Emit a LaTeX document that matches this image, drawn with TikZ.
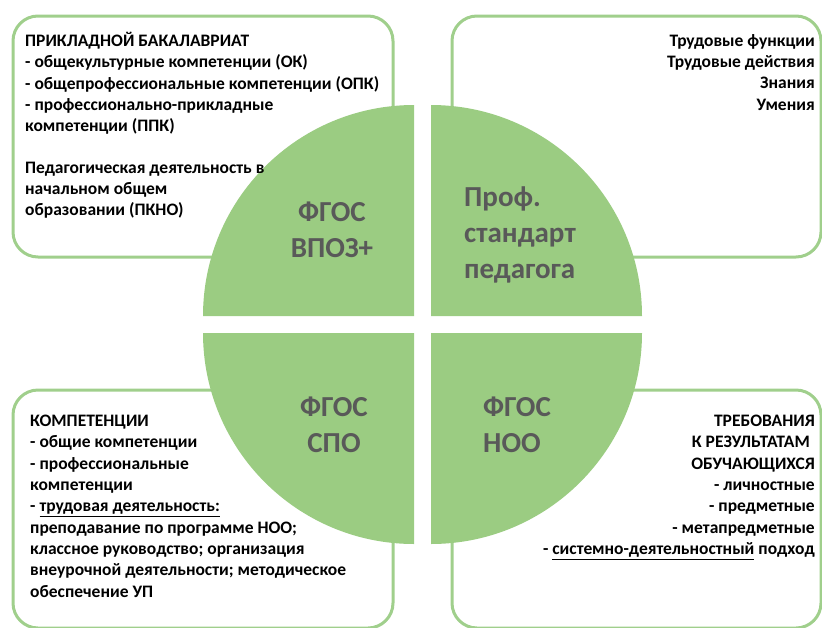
\documentclass[tikz,border=0pt]{standalone}
\usepackage{fontspec}
\setmainfont{Carlito}
\definecolor{qgreen}{RGB}{155,204,130}
\definecolor{bgreen}{RGB}{160,207,140}
\definecolor{lbl}{RGB}{89,89,89}
\begin{document}
\begin{tikzpicture}[x=1pt,y=-1pt,
  infobox/.style={draw=bgreen,line width=3pt,rounded corners=25pt},
  quad/.style={fill=qgreen},
  body/.style={inner sep=0pt,font=\fontsize{17.5}{21.3}\selectfont\bfseries,text=black},
  qlabel/.style={inner sep=0pt,font=\fontsize{29}{36}\selectfont\bfseries,text=lbl}]
\useasboundingbox (0,0) rectangle (822,627);
\begin{scope}
\clip (0,0) rectangle (822,627);
\draw[infobox] (13,16) rectangle (393,257);
\draw[infobox] (452,16) rectangle (821,257);
\draw[infobox] (13,390) rectangle (393,628);
\draw[infobox] (452,390) rectangle (821,628);
\end{scope}
% quadrants
\fill[quad] (414,316) -- ++(-211pt,0pt) arc[start angle=180,end angle=90,radius=211pt] -- cycle;
\fill[quad] (431,316) -- ++(211pt,0pt) arc[start angle=0,end angle=90,radius=211pt] -- cycle;
\fill[quad] (414,333) -- ++(-211pt,0pt) arc[start angle=180,end angle=270,radius=211pt] -- cycle;
\fill[quad] (431,333) -- ++(211pt,0pt) arc[start angle=0,end angle=-90,radius=211pt] -- cycle;
% labels
\node[qlabel,align=center] (vpo) at (332,230) {ФГОС\\ВПОЗ+};
\node[qlabel,align=left,anchor=west] (prof) at (464,235) {Проф.\\стандарт\\педагога};
\node[qlabel,align=center] (spo) at (334,425) {ФГОС\\СПО};
\node[qlabel,align=left,anchor=west] (noo) at (483,425) {ФГОС\\НОО};
% texts
\node[body,align=left,anchor=north west] (t1) at (25,32) {ПРИКЛАДНОЙ БАКАЛАВРИАТ\\
- общекультурные компетенции (ОК)\\
- общепрофессиональные компетенции (ОПК)\\
- профессионально-прикладные\\
компетенции (ППК)\\[20pt]
Педагогическая деятельность в\\
начальном общем\\
образовании (ПКНО)};
\node[body,align=right,anchor=north east] (t2) at (815,34) {Трудовые функции\\
Трудовые действия\\
Знания\\
Умения};
\node[body,align=left,anchor=north west] (t3) at (30,415) {КОМПЕТЕНЦИИ\\
- общие компетенции\\
- профессиональные\\
компетенции\\
- \underline{трудовая деятельность:}\\
преподавание по программе НОО;\\
классное руководство; организация\\
внеурочной деятельности; методическое\\
обеспечение УП};
\node[body,align=right,anchor=north east] (t4) at (815,415) {ТРЕБОВАНИЯ\\
К РЕЗУЛЬТАТАМ\kern5pt\\
ОБУЧАЮЩИХСЯ\\
- личностные\\
- предметные\\
- метапредметные\\
- \underline{системно-деятельностный} подход};
\end{tikzpicture}
\end{document}
